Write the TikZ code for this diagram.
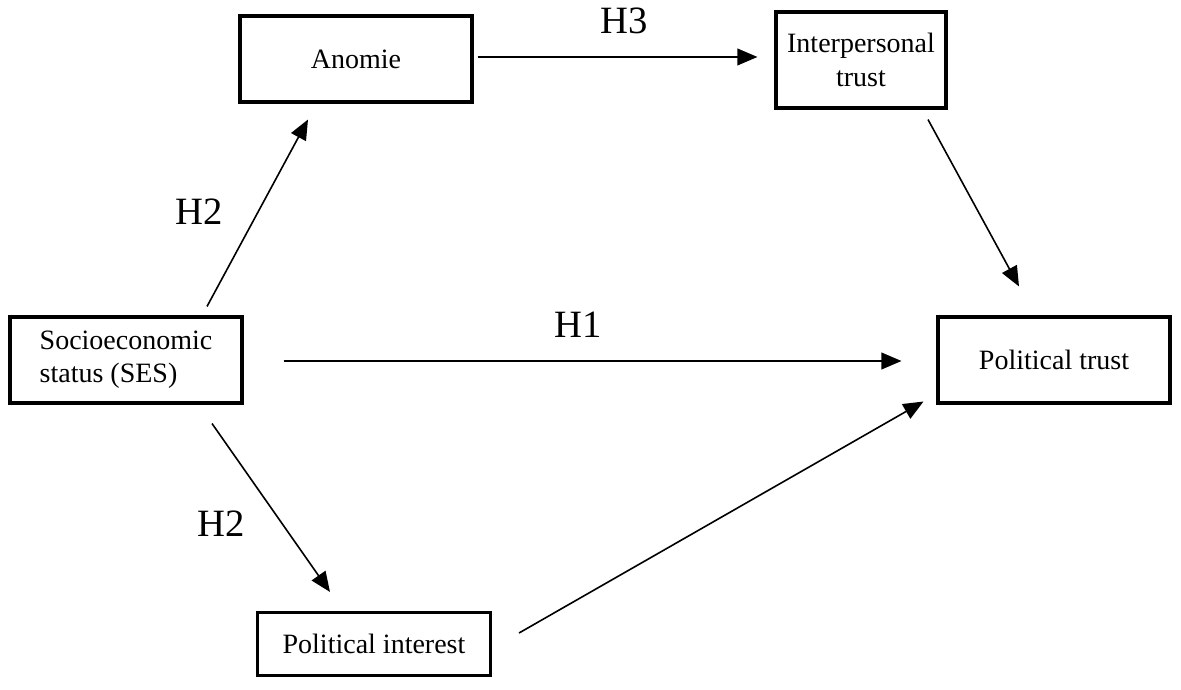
\documentclass[tikz,border=0pt]{standalone}
\usepackage{fontspec}
\setmainfont{Liberation Serif}
\usetikzlibrary{arrows.meta}
\begin{document}
\begin{tikzpicture}[>={Triangle[length=15pt,width=12.5pt]},x=0.75pt,y=0.75pt,
	box/.style={draw,line width=2.3pt,inner sep=0pt,font=\fontsize{21}{25}\selectfont},
	hyp/.style={inner sep=0pt,font=\fontsize{29}{33}\selectfont},
	arr/.style={->,line width=1.2pt}]
			\useasboundingbox (0,0) rectangle (1181,689);
			% cac khoi
			\node[box,minimum width=232*0.75pt,minimum height=86*0.75pt] (anomie) at (356,630) {Anomie};
			\node[box,minimum width=170*0.75pt,minimum height=96*0.75pt,align=center] (interp) at (861,629) {Interpersonal\\trust};
			\node[box,minimum width=232*0.75pt,minimum height=86*0.75pt,align=left] (ses) at (126,329) {Socioeconomic\\status (SES)};
			\node[box,minimum width=232*0.75pt,minimum height=86*0.75pt] (poltrust) at (1054,329) {Political trust};
			\node[box,minimum width=233*0.75pt,minimum height=63*0.75pt] (polint) at (374,45) {Political interest};
			% cac mui ten
			\draw[arr] ([shift={(4,2)}]anomie.east) -- ([shift={(-17,3)}]interp.west);
			\draw[arr] ([shift={(67,-10)}]interp.south) -- ([shift={(-35,29)}]poltrust.north);
			\draw[arr] ([shift={(81,9)}]ses.north) -- ([shift={(-48,-16)}]anomie.south);
			\draw[arr] ([shift={(40,-1)}]ses.east) -- ([shift={(-35,-1)}]poltrust.west);
			\draw[arr] ([shift={(86,-19)}]ses.south) -- ([shift={(-44,19)}]polint.north);
			\draw[arr] ([shift={(27,11)}]polint.east) -- ([shift={(-13,3)}]poltrust.south west);
			% nhan
			\node[hyp] (hthree) at (624,668) {H3};
			\node[hyp] (hone) at (578,364) {H1};
			\node[hyp] (htwoa) at (199,477) {H2};
			\node[hyp] (htwob) at (221,165) {H2};
		\end{tikzpicture}
\end{document}
